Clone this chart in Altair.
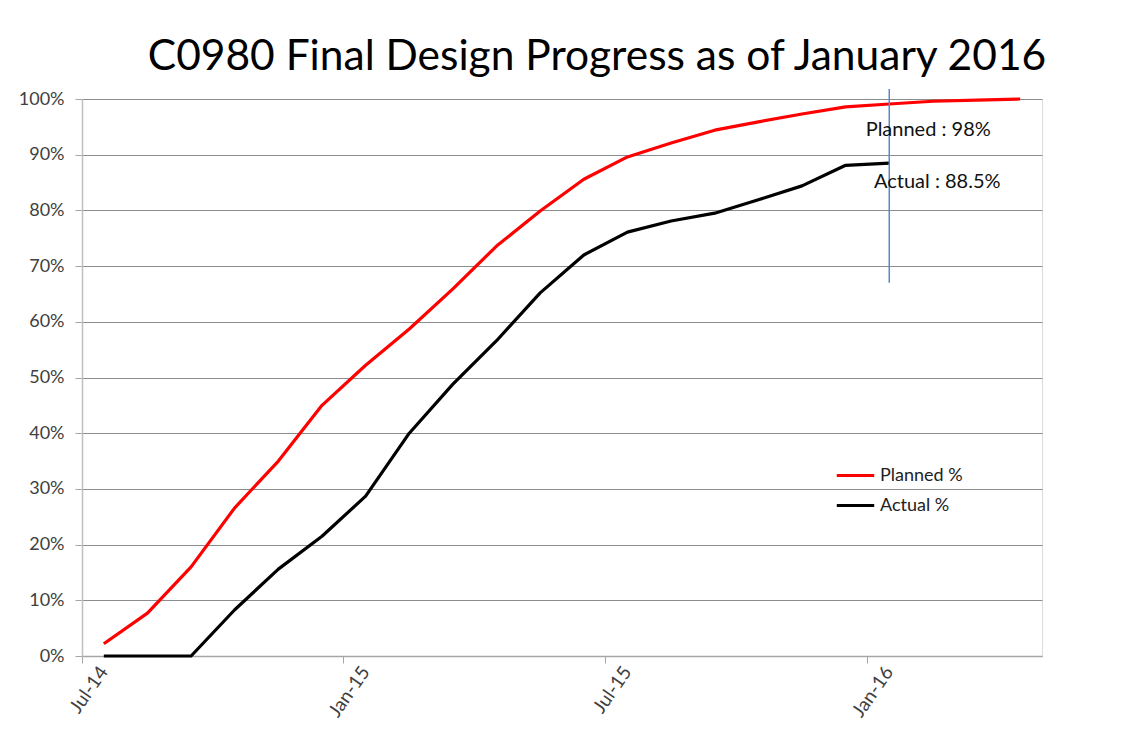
import altair as alt
import pandas as pd

months = ["Jul-14", "Aug-14", "Sep-14", "Oct-14", "Nov-14", "Dec-14",
          "Jan-15", "Feb-15", "Mar-15", "Apr-15", "May-15", "Jun-15",
          "Jul-15", "Aug-15", "Sep-15", "Oct-15", "Nov-15", "Dec-15",
          "Jan-16", "Feb-16", "Mar-16", "Apr-16"]
planned = [2.2, 7.7, 16.0, 26.6, 35.0, 45.0, 52.2, 58.7, 65.9, 73.6, 79.9,
           85.6, 89.6, 92.1, 94.4, 95.9, 97.3, 98.6, 99.1, 99.6, 99.8, 100.0]
actual = [0.0, 0.0, 0.0, 8.3, 15.6, 21.5, 28.7, 40.0, 48.8, 56.6, 65.2,
          72.0, 76.1, 78.1, 79.5, 81.9, 84.4, 88.1, 88.5]
tick_months = ["Jul-14", "Jan-15", "Jul-15", "Jan-16"]
y_ticks = [0, 10, 20, 30, 40, 50, 60, 70, 80, 90, 100]
series_names = ["Planned %", "Actual %"]
series_colors = ["#FF0000", "#000000"]

annot_text = ["Planned : 98%", "Actual : 88.5%"]
annot_month = ["Jan-16", "Jan-16"]
annot_value = [94.4, 85.1]
annot_dx = [39, 48]

marker_month = ["Jan-16"]
marker_top = [101.8]
marker_bottom = [67.0]

FONT = "Lato"

rows = []
for m, v in zip(months, planned):
    rows.append({"month": m, "value": v, "series": series_names[0]})
for m, v in zip(months, actual):
    rows.append({"month": m, "value": v, "series": series_names[1]})
df = pd.DataFrame(rows)

annot_df = pd.DataFrame({"month": annot_month, "value": annot_value,
                         "text": annot_text, "dx": annot_dx})
marker_df = pd.DataFrame({"month": marker_month, "top": marker_top,
                          "bottom": marker_bottom})

x_scale = alt.Scale(type="band", domain=months, paddingInner=0, paddingOuter=0)
y_scale = alt.Scale(domain=[0, 100], nice=False)

x_enc = alt.X(
    "month:N", sort=months, scale=x_scale, bandPosition=0.5,
    axis=alt.Axis(
        title=None, values=tick_months, bandPosition=0, grid=False,
        labelAngle=-55, labelAlign="right", labelBaseline="middle",
        labelFont=FONT, labelFontSize=19, labelColor="#404040",
        labelPadding=5, tickSize=7, tickColor="#a6a6a6",
        domainColor="#a6a6a6", domainWidth=1.5,
    ),
)
y_enc = alt.Y(
    "value:Q", scale=y_scale,
    axis=alt.Axis(
        title=None, values=y_ticks, labelExpr="datum.value + '%'",
        labelFont=FONT, labelFontSize=18, labelColor="#404040",
        labelPadding=11, tickSize=7, tickColor="#a6a6a6",
        domainColor="#bfbfbf", domainWidth=1.5,
        grid=True, gridColor="#8c8c8c", gridWidth=1,
    ),
)

lines = alt.Chart(df).mark_line(strokeWidth=3.2, strokeJoin="round").encode(
    x=x_enc,
    y=y_enc,
    color=alt.Color(
        "series:N",
        scale=alt.Scale(domain=series_names, range=series_colors),
        legend=alt.Legend(
            title=None, orient="none", legendX=753, legendY=356,
            symbolType="stroke", symbolStrokeWidth=3.2, symbolSize=1400,
            labelFont=FONT, labelFontSize=18, labelColor="#222222",
            labelOffset=4, rowPadding=0,
        ),
    ),
)

marker = alt.Chart(marker_df).mark_rule(color="#5588C8", strokeWidth=1.5, clip=False).encode(
    x=alt.X("month:N", sort=months, scale=x_scale, bandPosition=0.5),
    y=alt.Y("top:Q", scale=y_scale),
    y2="bottom:Q",
)

annot_layers = []
for t, d in zip(annot_text, annot_dx):
    sub = annot_df[annot_df["text"] == t]
    annot_layers.append(
        alt.Chart(sub).mark_text(font=FONT, fontSize=20, color="#111111",
                                 align="center", baseline="middle", dx=d).encode(
            x=alt.X("month:N", sort=months, scale=x_scale, bandPosition=0.5),
            y=alt.Y("value:Q", scale=y_scale),
            text="text:N",
        )
    )

chart = alt.layer(lines, marker, *annot_layers).properties(
    width=960,
    height=557,
    title=alt.TitleParams(
        "C0980 Final Design Progress as of January 2016",
        font=FONT, fontSize=42.5, fontWeight="normal", color="#000000",
        anchor="middle", dx=35, offset=10,
    ),
    autosize=alt.AutoSizeParams(type="none"),
    padding={"left": 74, "top": 91, "right": 93, "bottom": 69},
).configure_view(stroke=None).configure(background="#ffffff")

chart.save("out.html", embed_options={"renderer": "svg", "actions": False})
